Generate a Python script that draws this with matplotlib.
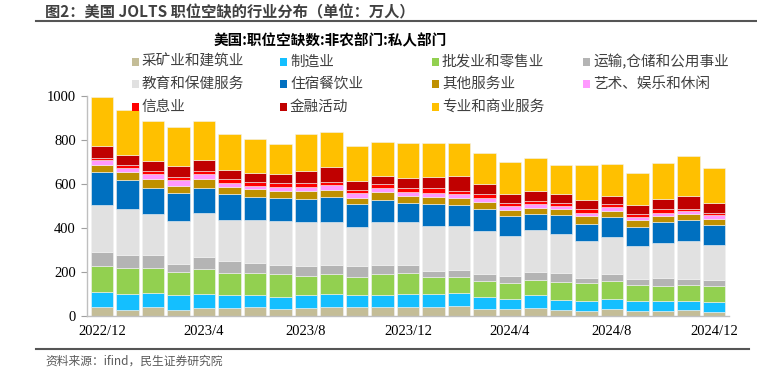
import matplotlib
matplotlib.use("Agg")
import matplotlib.pyplot as plt
from matplotlib.patches import Rectangle
import numpy as np

plt.rcParams['font.family'] = ['Noto Sans CJK SC', 'DejaVu Sans']

months = ["2022/12", "2023/1", "2023/2", "2023/3", "2023/4", "2023/5", "2023/6", "2023/7",
          "2023/8", "2023/9", "2023/10", "2023/11", "2023/12", "2024/1", "2024/2", "2024/3",
          "2024/4", "2024/5", "2024/6", "2024/7", "2024/8", "2024/9", "2024/10", "2024/11", "2024/12"]

mining = [43, 29, 41, 29, 37, 37, 41, 34, 40, 41, 41, 44, 43, 43, 46, 34, 34, 38, 31, 23, 34, 26, 26, 29, 22]
manufacturing = [69, 73, 67, 70, 65, 59, 58, 54, 59, 61, 58, 55, 59, 59, 59, 56, 47, 58, 45, 49, 47, 46, 46, 43, 42]
wholesale_retail = [118, 119, 113, 104, 113, 102, 99, 103, 86, 92, 78, 93, 93, 75, 75, 69, 69, 71, 80, 78, 78, 71, 67, 69, 72]
transport = [63, 59, 57, 35, 56, 53, 44, 43, 42, 41, 52, 43, 40, 29, 31, 33, 35, 33, 39, 26, 35, 28, 34, 27, 30]
education_health = [210, 205, 186, 196, 196, 187, 195, 200, 201, 193, 177, 194, 195, 206, 197, 193, 178, 190, 180, 166, 166, 149, 160, 175, 157]
leisure_hospitality = [151, 133, 120, 125, 116, 115, 105, 104, 102, 114, 102, 98, 85, 97, 98, 103, 90, 74, 83, 79, 92, 86, 96, 94, 92]
other_services = [30, 36, 38, 34, 39, 34, 36, 31, 39, 33, 30, 36, 30, 32, 32, 32, 30, 27, 28, 35, 28, 31, 27, 28, 26]
arts = [24, 19, 23, 24, 23, 18, 14, 17, 19, 21, 21, 18, 18, 18, 19, 18, 17, 17, 15, 15, 18, 15, 14, 14, 18]
information = [11, 14, 15, 13, 16, 20, 17, 17, 16, 12, 13, 17, 18, 21, 12, 15, 12, 15, 11, 15, 11, 12, 19, 10, 12]
finance = [53, 44, 43, 52, 47, 38, 39, 43, 57, 67, 41, 39, 47, 51, 67, 47, 44, 45, 42, 42, 36, 41, 44, 56, 43]
professional = [223, 203, 181, 177, 178, 163, 155, 137, 166, 160, 157, 155, 160, 157, 152, 140, 146, 152, 134, 156, 145, 146, 161, 181, 157]

series_names = ["采矿业和建筑业", "制造业", "批发业和零售业", "运输,仓储和公用事业",
                "教育和保健服务", "住宿餐饮业", "其他服务业", "艺术、娱乐和休闲",
                "信息业", "金融活动", "专业和商业服务"]
series_values = [mining, manufacturing, wholesale_retail, transport, education_health,
                 leisure_hospitality, other_services, arts, information, finance, professional]
colors = ["#C4BD97", "#14BFFF", "#92D050", "#B4B4B4", "#E1E1E1", "#0070C0",
          "#BF9000", "#FF99FF", "#FF0000", "#C00000", "#FFC000"]

tick_labels = ["2022/12", "2023/4", "2023/8", "2023/12", "2024/4", "2024/8", "2024/12"]

W, H = 757, 381
fig = plt.figure(figsize=(W / 100, H / 100), dpi=100)
ax = fig.add_axes([0.115, 0.1693, 0.848, 0.5795])

x = np.arange(len(months))
bottom = np.zeros(len(months))
for name, vals, c in zip(series_names, series_values, colors):
    ax.bar(x, vals, width=0.88, bottom=bottom, color=c, edgecolor="#F2F2F2",
           linewidth=0.4, label=name)
    bottom += np.array(vals)

ax.set_xlim(-0.59, len(months) - 0.41)
ax.set_ylim(0, 1000)
ax.set_yticks([0, 200, 400, 600, 800, 1000])
ax.set_yticklabels(["0", "200", "400", "600", "800", "1000"],
                   fontfamily="Liberation Serif", fontsize=10.5)
tick_pos = [months.index(t) for t in tick_labels]
ax.set_xticks(tick_pos)
ax.set_xticklabels(tick_labels, fontfamily="Liberation Serif", fontsize=10.5)
ax.tick_params(axis="x", length=0, pad=6)
ax.tick_params(axis="y", length=4, width=0.8, color="#A0A0A0", direction="out", pad=4)
for s in ["top", "right"]:
    ax.spines[s].set_visible(False)
for s in ["left", "bottom"]:
    ax.spines[s].set_color("#BFBFBF")
    ax.spines[s].set_linewidth(1.0)

# manual legend laid out row-wise (pixel positions converted to figure fraction)
col_x = [135, 283, 435, 586]
row_y = [62, 84, 107]
for i, (name, c) in enumerate(zip(series_names, colors)):
    r, k = divmod(i, 4)
    cx, cy = col_x[k], row_y[r]
    fig.add_artist(Rectangle(((cx - 3.5) / W, 1 - (cy + 3.5) / H), 7 / W, 7 / H,
                             transform=fig.transFigure, facecolor=c, edgecolor="none"))
    fig.text((cx + 7) / W, 1 - cy / H, name, ha="left", va="center",
             fontsize=10.5, color="#404040")

fig.text(0.436, 0.895, "美国:职位空缺数:非农部门:私人部门", ha="center", va="center",
         fontsize=10.5, fontweight="bold", color="#000000")

fig.text(0.06, 0.967, "图2：美国 JOLTS 职位空缺的行业分布（单位：万人）", ha="left", va="center",
         fontsize=11, fontweight="bold", color="#404040")
fig.add_artist(plt.Line2D([0.048, 1.0], [0.944, 0.944], transform=fig.transFigure,
                          color="#555555", linewidth=1.5))
fig.add_artist(plt.Line2D([0.048, 0.99], [0.085, 0.085], transform=fig.transFigure,
                          color="#555555", linewidth=1.5))
fig.text(0.06, 0.052, "资料来源：ifind，民生证券研究院", ha="left", va="center",
         fontsize=8.5, color="#595959")

fig.savefig("out.png", dpi=100)
